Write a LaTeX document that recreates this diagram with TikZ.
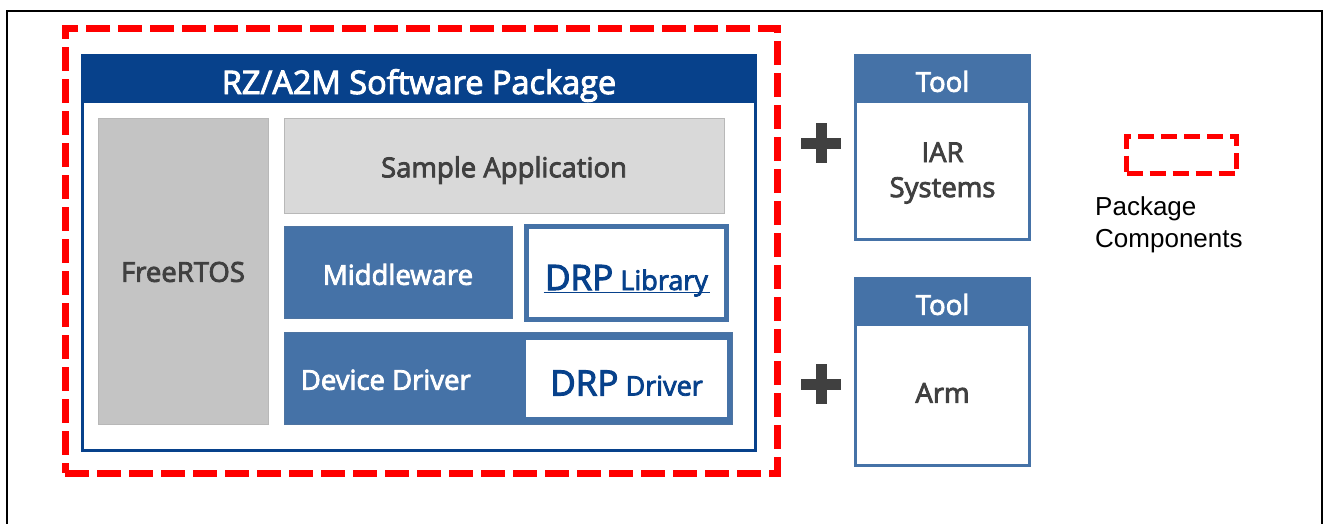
\documentclass[tikz,border=0pt]{standalone}
\usepackage{fontspec}
\newfontfamily\segoe{Open Sans}[FakeBold=3]
\newfontfamily\arial{Liberation Sans}
\usetikzlibrary{calc}

\definecolor{darkblue}{RGB}{7,65,139}
\definecolor{midblue}{RGB}{69,114,167}
\definecolor{rtosgray}{RGB}{196,196,196}
\definecolor{appgray}{RGB}{217,217,217}
\definecolor{textgray}{RGB}{64,64,64}

\newcommand{\drptext}[2]{{\fontsize{35}{40}\selectfont #1} {\fontsize{27}{30}\selectfont #2}}

\tikzset{
    bodyfont/.style={font=\segoe\fontsize{27.5}{35}\selectfont, text height=19.6pt, text depth=0pt},
    drpfont/.style={font=\segoe\fontsize{27.5}{35}\selectfont, text height=25pt, text depth=0pt},
    redzone/.style={draw=red, line width=7, dash pattern=on 24pt off 8pt, inner sep=0pt},
    pkgframe/.style={draw=darkblue, line width=3, fill=white, inner sep=0pt},
    pkghead/.style={fill=darkblue, text=white, inner sep=0pt, font=\segoe\fontsize{32.5}{36}\selectfont},
    grayblock/.style={draw=black!28, line width=0.8, text=textgray, inner sep=0pt, bodyfont},
    blueblock/.style={fill=midblue, draw=midblue!85!gray, line width=0.8, text=white, inner sep=0pt, bodyfont},
    drpbox/.style={fill=white, draw=midblue, line width=5, text=darkblue, inner sep=0pt, drpfont},
    toolframe/.style={fill=white, draw=midblue, line width=3, inner sep=0pt},
    toolhead/.style={fill=midblue, text=white, inner sep=0pt, bodyfont},
    graytext/.style={text=textgray, inner sep=0pt, bodyfont}
}

\begin{document}
\begin{tikzpicture}[x=1pt, y=-1pt]
    \useasboundingbox (0,0) rectangle (1325,523);

    % outer frame
    \draw[line width=2.5] (7,540) -- (7,11) -- (1322,11) -- (1322,540);

    % package components
    \node[redzone, minimum width=712pt, minimum height=445pt] (zone) at (421,250.5) {};

    % software package
    \node[pkgframe, minimum width=673pt, minimum height=395pt] (pkg) at (419,253) {};
    \node[pkghead, minimum width=676pt, minimum height=49pt] (pkgtitle) at (419,78.5) {};
    \node[pkghead, fill=none, text height=23pt, text depth=0pt] (pkgname) at (419,82.5) {RZ/A2M Software Package};

    \node[grayblock, fill=rtosgray, minimum width=170pt, minimum height=306pt] (rtos) at (183,271) {};
    \node[graytext] (rtosname) at (183,272) {FreeRTOS};
    \node[grayblock, fill=appgray, minimum width=440pt, minimum height=95pt] (app) at (504,165.5) {};
    \node[graytext] (appname) at (504,167.5) {Sample Application};

    % middleware + DRP library
    \node[blueblock, minimum width=228pt, minimum height=92pt] (mw) at (398,272) {};
    \node[bodyfont, text=white, inner sep=0pt] (mwname) at (398,275) {Middleware};
    \node[drpbox, minimum width=200pt, minimum height=93pt] (drplib) at (626.5,273) {};
    \node[drpfont, text=darkblue, inner sep=0pt] (drplibname) at (626.5,277.5) {\drptext{DRP}{Library}};
    \draw[darkblue, line width=1.5] ($(drplibname.base)+(-83,2.5)$) -- ($(drplibname.base)+(83,2.5)$);

    % device driver + DRP driver
    \node[blueblock, minimum width=448pt, minimum height=92pt] (dd) at (508,378) {};
    \node[bodyfont, text=white, inner sep=0pt, anchor=west] (ddname) at ($(dd.west)+(17,2)$) {Device Driver};
    \node[fill=white, inner sep=0pt, minimum width=201pt, minimum height=77pt] (drpdrv) at (626.5,378.5) {};
    \node[drpfont, text=darkblue, inner sep=0pt] (drpdrvname) at (626.5,383) {\drptext{DRP}{Driver}};

    % tools
    \node[toolframe, minimum width=174pt, minimum height=184pt] (iar) at (942.5,147.5) {};
    \node[toolhead, minimum width=177pt, minimum height=49pt] (iarhead) at (942.5,78.5) {};
    \node[bodyfont, text=white, inner sep=0pt] (iartool) at (942.5,82) {Tool};
    \node[text=textgray, inner sep=0pt, font=\segoe\fontsize{27.5}{35}\selectfont, align=center] (iarname) at (942.5,173) {IAR\\Systems};

    \node[toolframe, minimum width=174pt, minimum height=187pt] (arm) at (942.5,372) {};
    \node[toolhead, minimum width=177pt, minimum height=49pt] (armhead) at (942.5,301.5) {};
    \node[bodyfont, text=white, inner sep=0pt] (armtool) at (942.5,305) {Tool};
    \node[graytext] (armname) at (942.5,393) {Arm};

    % plus signs
    \foreach \y in {143,384} {
        \fill[textgray] (801,\y-5.5) rectangle (841,\y+5.5);
        \fill[textgray] (815.5,\y-20) rectangle (826.5,\y+20);
    }

    % legend
    \node[redzone, line width=5, dash pattern=on 16pt off 7pt, minimum width=110pt, minimum height=37pt] (legend) at (1181.5,155) {};
    \node[font=\arial\fontsize{26}{32}\selectfont, align=left, inner sep=0pt, anchor=north west] (legendtext) at (1095,196) {Package\\Components};
\end{tikzpicture}
\end{document}
